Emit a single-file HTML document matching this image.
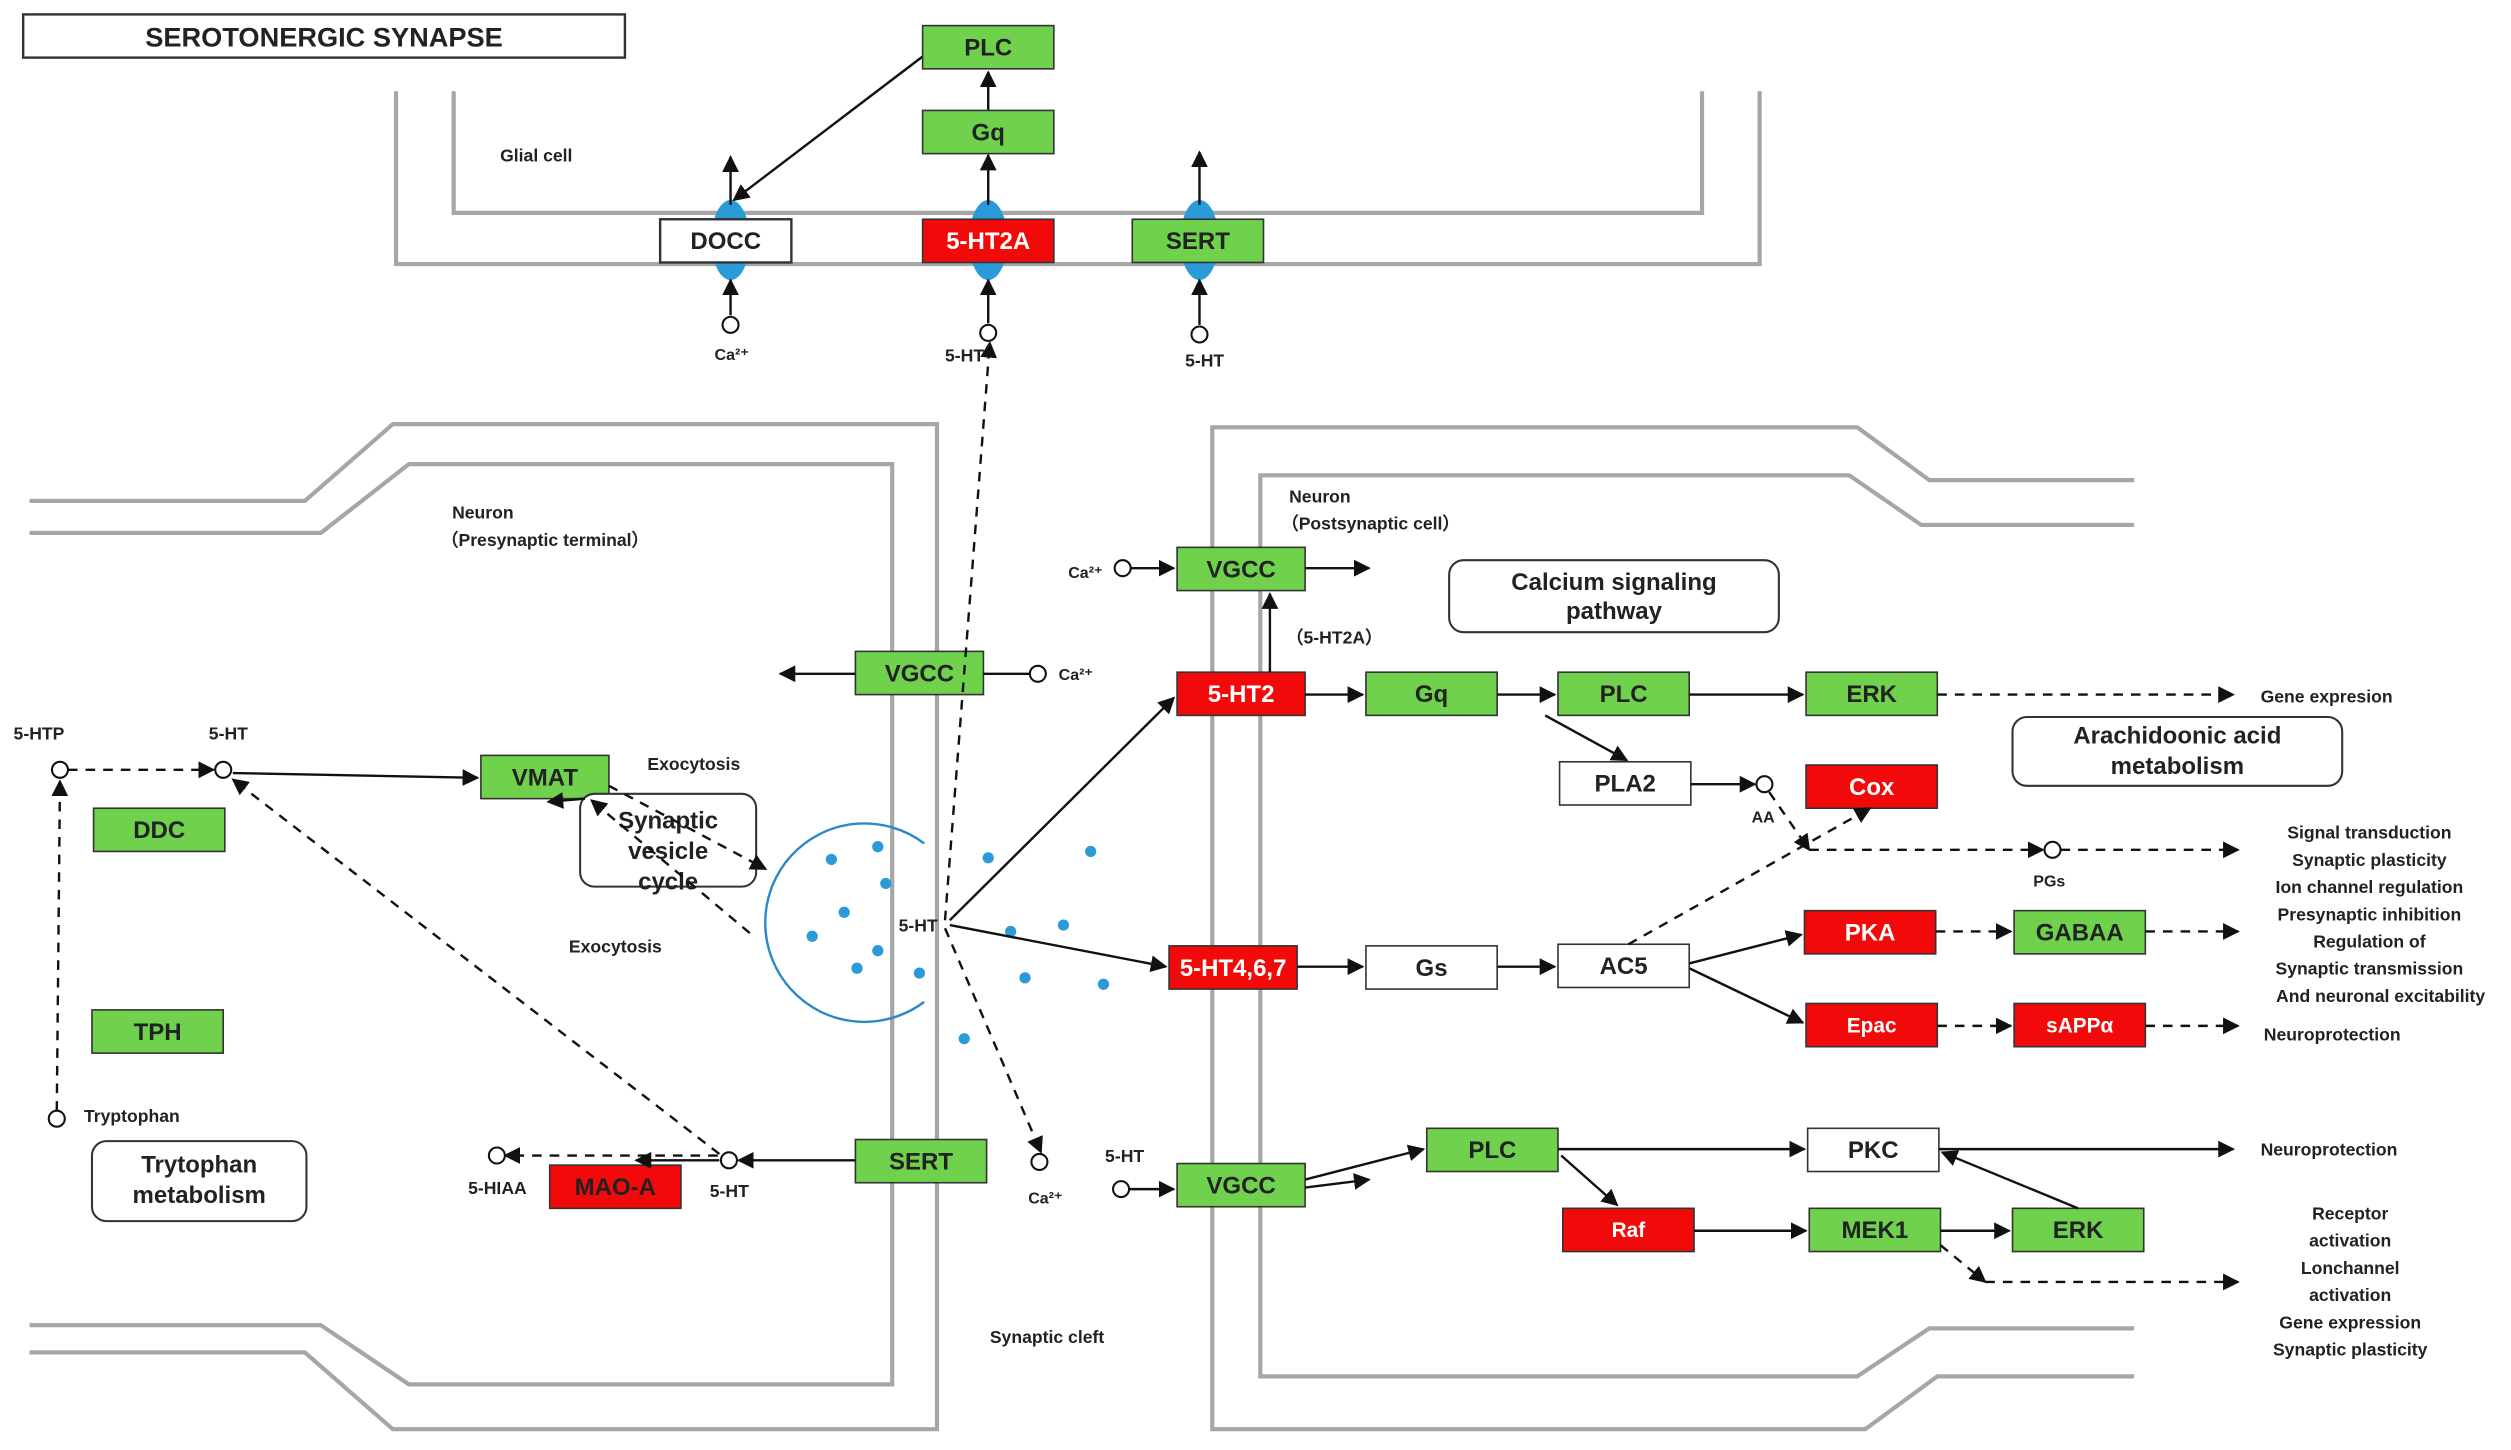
<!DOCTYPE html>
<html><head><meta charset="utf-8"><style>
html,body{margin:0;padding:0;background:#fff}
svg{display:block}
text{font-family:"Liberation Sans",Arial,sans-serif;font-weight:bold;fill:#222}
.n{font-size:15px;text-anchor:middle;dominant-baseline:central}
.s{font-size:11px}
.m{font-size:12px}
</style></head><body>
<svg width="2511" height="1450" viewBox="0 0 1568 906" xmlns="http://www.w3.org/2000/svg">
<defs>
<marker id="a" viewBox="0 0 10 10" refX="9" refY="5" markerWidth="7" markerHeight="7" orient="auto-start-reverse"><path d="M0,0 L10,5 L0,10 z" fill="#111"/></marker>
</defs>
<g fill="none" stroke="#a6a6a6" stroke-width="2.6">
<path d="M247,57 V165 H1099 V57"/>
<path d="M283,57 V133 H1063 V57"/>
<path d="M18,313 H190 L245,265 H585 V893 H245 L190,845 H18"/>
<path d="M18,333 H200 L255,290 H557 V865 H255 L200,828 H18"/>
<path d="M1333,300 H1205 L1160,267 H757 V893 H1165 L1210,860 H1333"/>
<path d="M1333,328 H1200 L1155,297 H787 V860 H1160 L1205,830 H1333"/>
</g>
<rect x="14" y="9" width="376" height="27" fill="#fff" stroke="#333" stroke-width="1.5"/>
<text x="202" y="23" class="n" style="font-size:17px">SEROTONERGIC SYNAPSE</text>
<text x="312" y="101" class="s">Glial cell</text>
<g fill="#2a9ad8"><ellipse cx="456" cy="150" rx="12" ry="25"/><ellipse cx="617" cy="150" rx="12" ry="25"/><ellipse cx="749" cy="150" rx="12" ry="25"/></g>
<g stroke="#111" stroke-width="1.5" fill="none" marker-end="url(#a)">
<line x1="456" y1="128" x2="456" y2="98"/><line x1="749" y1="128" x2="749" y2="95"/>
<line x1="617" y1="69" x2="617" y2="45"/><line x1="617" y1="128" x2="617" y2="97"/>
<line x1="583" y1="30" x2="458" y2="125"/>
<line x1="456" y1="197" x2="456" y2="175"/><line x1="617" y1="202" x2="617" y2="175"/><line x1="749" y1="203" x2="749" y2="175"/>
</g>
<g fill="#fff" stroke="#111" stroke-width="1.3"><circle cx="456" cy="203" r="5"/><circle cx="617" cy="208" r="5"/><circle cx="749" cy="209" r="5"/></g>
<text x="446" y="225" class="s" style="font-size:10px">Ca²⁺</text><text x="590" y="226" class="s">5-HT</text><text x="740" y="229" class="s">5-HT</text>
<g stroke="#333" stroke-width="1">
<rect x="576" y="16" width="82" height="27" fill="#6fd14c"/>
<rect x="576" y="69" width="82" height="27" fill="#6fd14c"/>
<rect x="576" y="137" width="82" height="27" fill="#f20a0a"/>
<rect x="412" y="137" width="82" height="27" fill="#fff" stroke-width="1.5"/>
<rect x="707" y="137" width="82" height="27" fill="#6fd14c"/>
<rect x="735" y="342" width="80" height="27" fill="#6fd14c"/>
<rect x="735" y="420" width="80" height="27" fill="#f20a0a"/>
<rect x="853" y="420" width="82" height="27" fill="#6fd14c"/>
<rect x="973" y="420" width="82" height="27" fill="#6fd14c"/>
<rect x="1128" y="420" width="82" height="27" fill="#6fd14c"/>
<rect x="974" y="476" width="82" height="27" fill="#fff"/>
<rect x="1128" y="478" width="82" height="27" fill="#f20a0a"/>
<rect x="730" y="591" width="80" height="27" fill="#f20a0a"/>
<rect x="853" y="591" width="82" height="27" fill="#fff"/>
<rect x="973" y="590" width="82" height="27" fill="#fff"/>
<rect x="1127" y="569" width="82" height="27" fill="#f20a0a"/>
<rect x="1258" y="569" width="82" height="27" fill="#6fd14c"/>
<rect x="1128" y="627" width="82" height="27" fill="#f20a0a"/>
<rect x="1258" y="627" width="82" height="27" fill="#f20a0a"/>
<rect x="735" y="727" width="80" height="27" fill="#6fd14c"/>
<rect x="891" y="705" width="82" height="27" fill="#6fd14c"/>
<rect x="1129" y="705" width="82" height="27" fill="#fff"/>
<rect x="976" y="755" width="82" height="27" fill="#f20a0a"/>
<rect x="1130" y="755" width="82" height="27" fill="#6fd14c"/>
<rect x="1257" y="755" width="82" height="27" fill="#6fd14c"/>
<rect x="534" y="407" width="80" height="27" fill="#6fd14c"/>
<rect x="300" y="472" width="80" height="27" fill="#6fd14c"/>
<rect x="58" y="505" width="82" height="27" fill="#6fd14c"/>
<rect x="57" y="631" width="82" height="27" fill="#6fd14c"/>
<rect x="343" y="728" width="82" height="27" fill="#f20a0a"/>
<rect x="534" y="712" width="82" height="27" fill="#6fd14c"/>
</g>
<g fill="#fff" stroke="#333" stroke-width="1.3">
<rect x="905" y="350" width="206" height="45" rx="9"/>
<rect x="1257" y="448" width="206" height="43" rx="9"/>
<rect x="362" y="496" width="110" height="58" rx="9"/>
<rect x="57" y="713" width="134" height="50" rx="9"/>
</g>
<text x="617" y="30" class="n">PLC</text><text x="617" y="83" class="n">Gq</text><text x="617" y="151" class="n" style="fill:#fff">5-HT2A</text>
<text x="453" y="151" class="n">DOCC</text><text x="748" y="151" class="n">SERT</text>
<text x="775" y="356" class="n">VGCC</text><text x="775" y="434" class="n" style="fill:#fff">5-HT2</text>
<text x="894" y="434" class="n">Gq</text><text x="1014" y="434" class="n">PLC</text><text x="1169" y="434" class="n">ERK</text>
<text x="1015" y="490" class="n">PLA2</text><text x="1169" y="492" class="n" style="fill:#fff">Cox</text>
<text x="770" y="605" class="n" style="fill:#fff">5-HT4,6,7</text><text x="894" y="605" class="n">Gs</text><text x="1014" y="604" class="n">AC5</text>
<text x="1168" y="583" class="n" style="fill:#fff">PKA</text><text x="1299" y="583" class="n">GABAA</text>
<text x="1169" y="641" class="n" style="fill:#fff;font-size:13px">Epac</text><text x="1299" y="641" class="n" style="fill:#fff;font-size:13px">sAPPα</text>
<text x="775" y="741" class="n">VGCC</text><text x="932" y="719" class="n">PLC</text><text x="1170" y="719" class="n">PKC</text>
<text x="1017" y="769" class="n" style="fill:#fff;font-size:13px">Raf</text><text x="1171" y="769" class="n">MEK1</text><text x="1298" y="769" class="n">ERK</text>
<text x="574" y="421" class="n">VGCC</text><text x="340" y="486" class="n">VMAT</text><text x="99" y="519" class="n">DDC</text>
<text x="98" y="645" class="n">TPH</text><text x="384" y="742" class="n">MAO-A</text><text x="575" y="726" class="n">SERT</text>
<text x="1008" y="364" class="n">Calcium signaling</text><text x="1008" y="382" class="n">pathway</text>
<text x="1360" y="460" class="n">Arachidoonic acid</text><text x="1360" y="479" class="n">metabolism</text>
<text x="417" y="513" class="n">Synaptic</text><text x="417" y="532" class="n">vesicle</text><text x="417" y="551" class="n">cycle</text>
<text x="124" y="728" class="n">Trytophan</text><text x="124" y="747" class="n">metabolism</text>
<path d="M577,527 A62,62 0 1 0 577,626" fill="none" stroke="#2a8ac8" stroke-width="1.5"/>
<g fill="#2a9ad8">
<circle cx="519" cy="537" r="3.5"/><circle cx="548" cy="529" r="3.5"/><circle cx="553" cy="552" r="3.5"/><circle cx="527" cy="570" r="3.5"/><circle cx="507" cy="585" r="3.5"/><circle cx="548" cy="594" r="3.5"/><circle cx="535" cy="605" r="3.5"/><circle cx="574" cy="608" r="3.5"/><circle cx="617" cy="536" r="3.5"/><circle cx="681" cy="532" r="3.5"/><circle cx="631" cy="582" r="3.5"/><circle cx="664" cy="578" r="3.5"/><circle cx="640" cy="611" r="3.5"/><circle cx="689" cy="615" r="3.5"/><circle cx="602" cy="649" r="3.5"/>
</g>
<g stroke="#111" stroke-width="1.5" fill="none" marker-end="url(#a)">
<line x1="706" y1="355" x2="733" y2="355"/><line x1="815" y1="355" x2="855" y2="355"/>
<line x1="793" y1="420" x2="793" y2="371"/>
<line x1="815" y1="434" x2="851" y2="434"/><line x1="935" y1="434" x2="971" y2="434"/><line x1="1055" y1="434" x2="1126" y2="434"/>
<line x1="965" y1="447" x2="1016" y2="475"/><line x1="1056" y1="490" x2="1096" y2="490"/>
<line x1="593" y1="575" x2="733" y2="436"/><line x1="593" y1="578" x2="728" y2="604"/>
<line x1="810" y1="604" x2="851" y2="604"/><line x1="935" y1="604" x2="971" y2="604"/>
<line x1="1055" y1="602" x2="1125" y2="584"/><line x1="1055" y1="605" x2="1126" y2="639"/>
<line x1="705" y1="743" x2="733" y2="743"/><line x1="815" y1="737" x2="889" y2="718"/><line x1="815" y1="742" x2="855" y2="737"/>
<line x1="973" y1="718" x2="1127" y2="718"/><line x1="1211" y1="718" x2="1395" y2="718"/>
<line x1="975" y1="722" x2="1010" y2="753"/><line x1="1058" y1="769" x2="1128" y2="769"/><line x1="1212" y1="769" x2="1255" y2="769"/>
<line x1="1298" y1="755" x2="1213" y2="720"/>
<line x1="534" y1="421" x2="487" y2="421"/>
<line x1="145" y1="483" x2="298" y2="486"/>
<line x1="365" y1="499" x2="342" y2="501"/>
<line x1="449" y1="725" x2="397" y2="725"/><line x1="534" y1="725" x2="461" y2="725"/>
</g>
<line x1="643" y1="421" x2="614" y2="421" stroke="#111" stroke-width="1.5"/>
<g stroke="#111" stroke-width="1.5" fill="none" stroke-dasharray="6,5" marker-end="url(#a)">
<line x1="590" y1="575" x2="618" y2="214"/>
<line x1="1210" y1="434" x2="1395" y2="434"/>
<line x1="1105" y1="495" x2="1130" y2="531"/><line x1="1130" y1="531" x2="1276" y2="531"/>
<line x1="1287" y1="531" x2="1398" y2="531"/>
<line x1="1017" y1="590" x2="1168" y2="505"/>
<line x1="1209" y1="582" x2="1256" y2="582"/><line x1="1340" y1="582" x2="1398" y2="582"/>
<line x1="1210" y1="641" x2="1256" y2="641"/><line x1="1340" y1="641" x2="1398" y2="641"/>
<line x1="1212" y1="778" x2="1240" y2="801"/><line x1="1240" y1="801" x2="1398" y2="801"/>
<line x1="42" y1="481" x2="133" y2="481"/>
<line x1="35" y1="694" x2="37" y2="488"/>
<line x1="380" y1="491" x2="478" y2="543"/>
<line x1="468" y1="583" x2="369" y2="500"/>
<line x1="449" y1="721" x2="145" y2="487"/>
<line x1="590" y1="580" x2="650" y2="720"/>
<line x1="448" y1="722" x2="315" y2="722"/>
</g>
<g fill="#fff" stroke="#111" stroke-width="1.3">
<circle cx="701" cy="355" r="5"/><circle cx="1102" cy="490" r="5"/><circle cx="1282" cy="531" r="5"/><circle cx="700" cy="743" r="5"/>
<circle cx="648" cy="421" r="5"/><circle cx="37" cy="481" r="5"/><circle cx="139" cy="481" r="5"/><circle cx="35" cy="699" r="5"/>
<circle cx="310" cy="722" r="5"/><circle cx="455" cy="725" r="5"/><circle cx="649" cy="726" r="5"/>
</g>
<g class="s">
<text x="805" y="314" class="s">Neuron</text><text x="800" y="331" class="s">（Postsynaptic cell）</text>
<text x="282" y="324" class="s">Neuron</text><text x="275" y="341" class="s">（Presynaptic terminal）</text>
<text x="667" y="361" class="s" style="font-size:10px">Ca²⁺</text>
<text x="661" y="425" class="s" style="font-size:10px">Ca²⁺</text>
<text x="803" y="402" class="s">（5-HT2A）</text>
<text x="1412" y="439" class="s">Gene  expresion</text>
<text x="1094" y="514" class="s" style="font-size:10px">AA</text>
<text x="1270" y="554" class="s" style="font-size:10px">PGs</text>
<text x="561" y="582" class="s">5-HT</text>
<text x="404" y="481" class="s">Exocytosis</text><text x="355" y="595" class="s">Exocytosis</text>
<text x="8" y="462" class="s">5-HTP</text><text x="130" y="462" class="s">5-HT</text>
<text x="52" y="701" class="s">Tryptophan</text>
<text x="292" y="746" class="s">5-HIAA</text><text x="443" y="748" class="s">5-HT</text>
<text x="642" y="752" class="s" style="font-size:10px">Ca²⁺</text>
<text x="690" y="726" class="s">5-HT</text>
<text x="618" y="839" class="s">Synaptic cleft</text>
<text x="1412" y="722" class="s">Neuroprotection</text>
<text x="1414" y="650" class="s">Neuroprotection</text>
</g>
<g class="s" text-anchor="middle">
<text x="1480" y="524">Signal transduction</text><text x="1480" y="541">Synaptic plasticity</text><text x="1480" y="558">Ion channel  regulation</text>
<text x="1480" y="575">Presynaptic  inhibition</text><text x="1480" y="592">Regulation of</text><text x="1480" y="609">Synaptic transmission</text>
<text x="1487" y="626">And neuronal  excitability</text>
<text x="1468" y="762">Receptor</text><text x="1468" y="779">activation</text><text x="1468" y="796">Lonchannel</text>
<text x="1468" y="813">activation</text><text x="1468" y="830">Gene expression</text><text x="1468" y="847">Synaptic  plasticity</text>
</g>
</svg>
</body></html>
